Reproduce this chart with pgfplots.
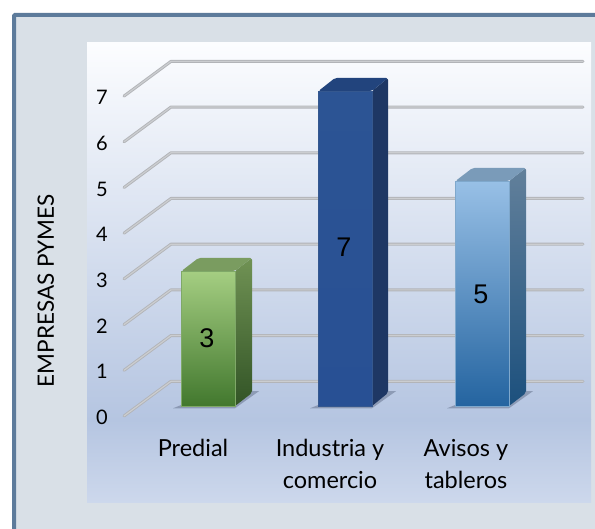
\documentclass[border=0pt]{standalone}
\usepackage{fontspec}
\setmainfont{Lato}
\newfontfamily\barfont{Liberation Sans}
\usepackage{pgfplots}
\pgfplotsset{compat=1.18}

\definecolor{framec}{HTML}{5D7B9B}
\definecolor{paper}{HTML}{D9E0E7}
\definecolor{paneltop}{HTML}{FCFDFF}
\definecolor{panelmid}{HTML}{B5C5E1}
\definecolor{panelbot}{HTML}{CDD8EC}
\definecolor{gridc}{HTML}{B2B4B8}
\definecolor{gridl}{HTML}{CBCDD0}
\definecolor{shadowc}{HTML}{3A4660}

\definecolor{greenedge}{HTML}{7FA868}
\definecolor{blueedge}{HTML}{35588F}
\definecolor{skyedge}{HTML}{7FA8CC}

\pgfplotsset{
  base/.style={
    width=595pt, height=528pt, scale only axis,
    xmin=0, xmax=595,
    axis line style={draw=none},
    tick style={draw=none},
  },
  gridline/.style={
    draw=gridc, line width=3pt, line cap=round, line join=round,
    postaction={draw=gridl, line width=1.2pt}, no marks, forget plot
  },
  front/.style={ybar, bar width=54pt, bar shift=0pt, draw=#1, line width=0.8pt, forget plot},
  face/.style={no marks, draw=none, forget plot, rounded corners=2pt},
  shadow/.style={no marks, draw=none, fill=shadowc, fill opacity=0.35, forget plot},
}

\begin{document}
\begin{tikzpicture}
\clip (0,0) rectangle (595pt,528pt);
% frame and panel
\path[fill=paper, draw=framec, line width=4pt, rounded corners=1pt]
    (14pt,513pt) rectangle (610pt,-15pt);
\path[top color=paneltop, bottom color=panelmid]
    (87pt,485pt) rectangle (591pt,108pt);
\path[top color=panelmid, bottom color=panelbot]
    (87pt,108.5pt) rectangle (591pt,25pt);
% back axis: grid lines and the 0-7 scale
\begin{axis}[
    base,
    ymin=-2.4508, ymax=9.1028,
    xtick=\empty,
    ytick={0,1,2,3,4,5,6,7},
    yticklabel style={anchor=center, xshift=102pt, yshift=-1.5pt, font=\fontsize{20}{22}\selectfont},
    /pgf/number format/assume math mode=true,
    every axis y label/.style={at={(rel axis cs:0.077,0.449)}, rotate=90, anchor=center},
    ylabel={\fontsize{22.5}{24}\selectfont EMPRESAS PYMES},
]
\addplot[gridline] coordinates {(124,0)(171,0.76)(583,0.76)};
\addplot[gridline] coordinates {(124,1)(171,1.76)(583,1.76)};
\addplot[gridline] coordinates {(124,2)(171,2.76)(583,2.76)};
\addplot[gridline] coordinates {(124,3)(171,3.76)(583,3.76)};
\addplot[gridline] coordinates {(124,4)(171,4.76)(583,4.76)};
\addplot[gridline] coordinates {(124,5)(171,5.76)(583,5.76)};
\addplot[gridline] coordinates {(124,6)(171,6.76)(583,6.76)};
\addplot[gridline] coordinates {(124,7)(171,7.76)(583,7.76)};
\end{axis}
% front axis: the bars
\begin{axis}[
    base,
    ymin=-2.7111, ymax=9.0222,
    ytick=\empty,
    xtick={193,330,466},
    xticklabels={Predial,{Industria y\\comercio},{Avisos y\\tableros}},
    xticklabel style={align=center, anchor=north, yshift=92.5pt,
      font=\fontsize{23.5}{32}\selectfont},
]
% Predial
\addplot[shadow] coordinates {(173,-0.05)(235,-0.05)(259,0.33)(250,0.33)(235,0.02)(181,0.02)} -- cycle;
\addplot[face, top color={rgb,255:red,112;green,146;blue,84}, bottom color={rgb,255:red,50;green,84;blue,38}]
    coordinates {(235,0)(252,0.29)(252,3.29)(235,3)} -- cycle;
\addplot[face, fill={rgb,255:red,122;green,156;blue,96}]
    coordinates {(181.5,3)(235,3)(252,3.29)(198.5,3.29)} -- cycle;
\addplot[front=greenedge, top color={rgb,255:red,165;green,206;blue,130}, middle color={rgb,255:red,114;green,176;blue,66}, bottom color={rgb,255:red,66;green,120;blue,46}]
    coordinates {(208.25,3)};
% Industria y comercio
\addplot[shadow] coordinates {(310,-0.05)(372,-0.05)(396,0.33)(386,0.33)(372,0.02)(318,0.02)} -- cycle;
\addplot[face, fill={rgb,255:red,30;green,55;blue,100}]
    coordinates {(372,0)(388,0.29)(388,7.29)(372,7)} -- cycle;
\addplot[face, fill={rgb,255:red,34;green,68;blue,125}]
    coordinates {(318.5,7)(372,7)(388,7.29)(335,7.29)} -- cycle;
\addplot[front=blueedge, top color={rgb,255:red,44;green,84;blue,148}, middle color={rgb,255:red,54;green,98;blue,172}, bottom color={rgb,255:red,40;green,80;blue,148}]
    coordinates {(345.25,7)};
% Avisos y tableros
\addplot[shadow] coordinates {(447,-0.05)(509,-0.05)(533,0.33)(524,0.33)(509,0.02)(455,0.02)} -- cycle;
\addplot[face, top color={rgb,255:red,98;green,128;blue,155}, bottom color={rgb,255:red,28;green,80;blue,125}]
    coordinates {(509,0)(526,0.29)(526,5.29)(509,5)} -- cycle;
\addplot[face, fill={rgb,255:red,122;green,155;blue,185}]
    coordinates {(455.5,5)(509,5)(526,5.29)(472.5,5.29)} -- cycle;
\addplot[front=skyedge, top color={rgb,255:red,152;green,192;blue,230}, middle color={rgb,255:red,98;green,155;blue,205}, bottom color={rgb,255:red,36;green,100;blue,160}]
    coordinates {(482.25,5)};
% value labels in the middle of the bars
\addplot[draw=none, no marks, forget plot, point meta=explicit symbolic, nodes near coords,
    nodes near coords style={anchor=center, font=\barfont\fontsize{27}{30}\selectfont, text=black}]
    coordinates {(207,1.51)[3] (344,3.53)[7] (481,2.49)[5]};
\end{axis}
\end{tikzpicture}
\end{document}
